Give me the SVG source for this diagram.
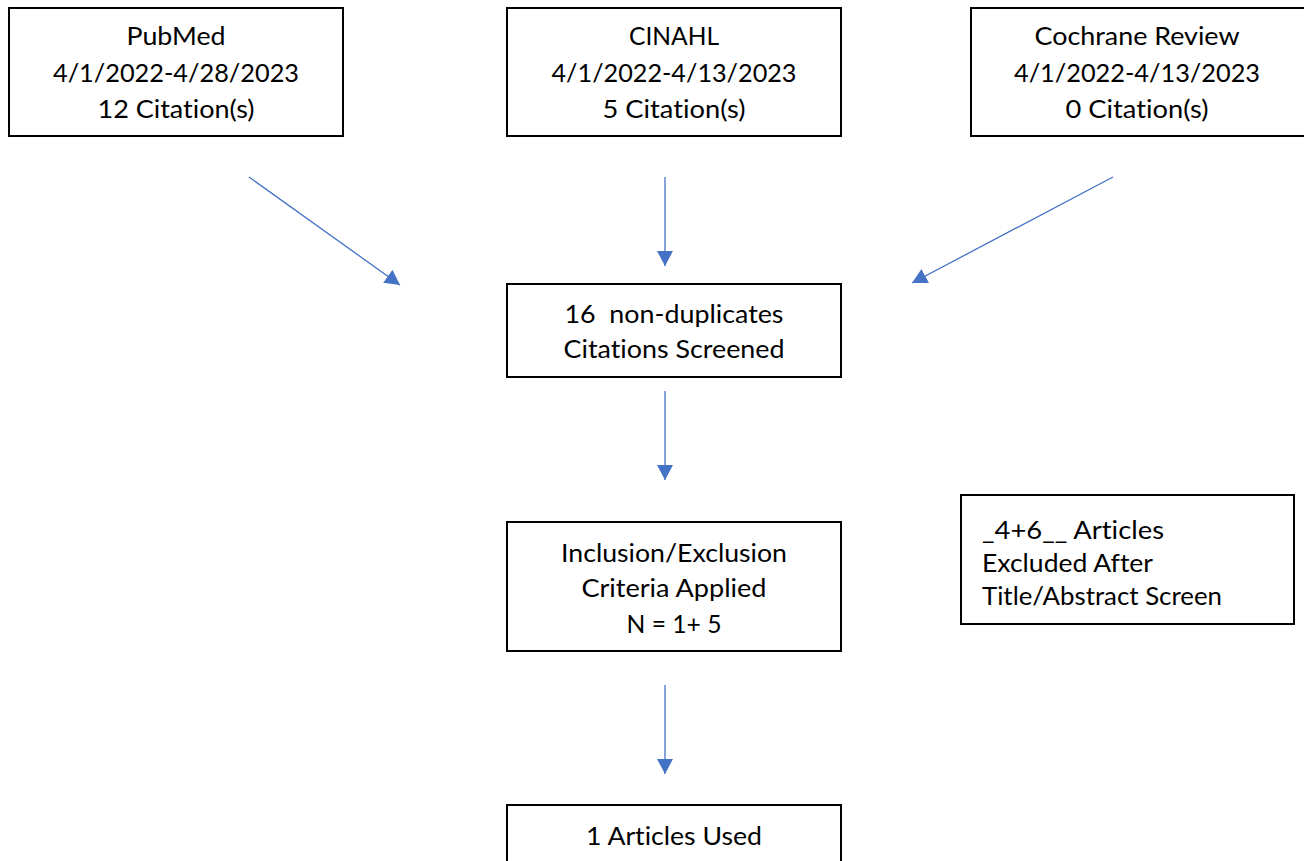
<svg xmlns="http://www.w3.org/2000/svg" width="1304" height="861" viewBox="0 0 1304 861">
<style>
.box{fill:#fff;stroke:#000;stroke-width:2}
.t{font-family:Lato,"Open Sans","Liberation Sans",sans-serif;font-size:25.5px;fill:#000;font-variant-ligatures:none;font-feature-settings:"liga" 0,"clig" 0}
.c{text-anchor:middle}
.conn{stroke:#4472C4;stroke-width:1.3;fill:none;marker-end:url(#ah)}
</style>
<defs>
<marker id="ah" markerUnits="userSpaceOnUse" markerWidth="16" markerHeight="16" refX="15" refY="8" orient="auto" viewBox="0 0 16 16">
<path d="M0,0 L15,8 L0,16 z" fill="#4472C4"/>
</marker>
</defs>
<rect width="1304" height="861" fill="#fff"/>
<g id="connectors">
<line class="conn" x1="249" y1="177" x2="400" y2="285"/>
<line class="conn" x1="665" y1="177" x2="665" y2="266"/>
<line class="conn" x1="1113" y1="177" x2="912" y2="283"/>
<line class="conn" x1="665" y1="391" x2="665" y2="480"/>
<line class="conn" x1="665" y1="685" x2="665" y2="774"/>
</g>
<g id="pubmed">
<rect class="box" x="9" y="8" width="334" height="128"/>
<text class="t c" x="176" y="45" textLength="99" lengthAdjust="spacingAndGlyphs">PubMed</text>
<text class="t c" x="176" y="82" textLength="246" lengthAdjust="spacingAndGlyphs">4/1/2022-4/28/2023</text>
<text class="t c" x="176" y="118" textLength="157" lengthAdjust="spacingAndGlyphs">12 Citation(s)</text>
</g>
<g id="cinahl">
<rect class="box" x="507" y="8" width="334" height="128"/>
<text class="t c" x="674" y="45" textLength="90" lengthAdjust="spacingAndGlyphs">CINAHL</text>
<text class="t c" x="674" y="82" textLength="245" lengthAdjust="spacingAndGlyphs">4/1/2022-4/13/2023</text>
<text class="t c" x="674" y="118" textLength="143" lengthAdjust="spacingAndGlyphs">5 Citation(s)</text>
</g>
<g id="cochrane">
<rect class="box" x="971" y="8" width="334" height="128"/>
<text class="t c" x="1137" y="45" textLength="205" lengthAdjust="spacingAndGlyphs">Cochrane Review</text>
<text class="t c" x="1137" y="82" textLength="246" lengthAdjust="spacingAndGlyphs">4/1/2022-4/13/2023</text>
<text class="t c" x="1137" y="118" textLength="143" lengthAdjust="spacingAndGlyphs">0 Citation(s)</text>
</g>
<g id="screened">
<rect class="box" x="507" y="284" width="334" height="93"/>
<text class="t c" x="674" y="323" textLength="219" lengthAdjust="spacingAndGlyphs" xml:space="preserve">16  non-duplicates</text>
<text class="t c" x="674" y="358" textLength="221" lengthAdjust="spacingAndGlyphs">Citations Screened</text>
</g>
<g id="criteria">
<rect class="box" x="507" y="522" width="334" height="129"/>
<text class="t c" x="674" y="562" textLength="226" lengthAdjust="spacingAndGlyphs">Inclusion/Exclusion</text>
<text class="t c" x="674" y="597" textLength="185" lengthAdjust="spacingAndGlyphs">Criteria Applied</text>
<text class="t c" x="674" y="633" textLength="95" lengthAdjust="spacingAndGlyphs">N = 1+ 5</text>
</g>
<g id="excluded">
<rect class="box" x="961" y="495" width="333" height="129"/>
<text class="t" x="982" y="539" textLength="182" lengthAdjust="spacingAndGlyphs">_4+6__ Articles</text>
<text class="t" x="982" y="572" textLength="171" lengthAdjust="spacingAndGlyphs">Excluded After</text>
<text class="t" x="982" y="605" textLength="240" lengthAdjust="spacingAndGlyphs">Title/Abstract Screen</text>
</g>
<g id="used">
<rect class="box" x="507" y="805" width="334" height="70"/>
<text class="t c" x="674" y="845" textLength="176" lengthAdjust="spacingAndGlyphs">1 Articles Used</text>
</g>
</svg>
